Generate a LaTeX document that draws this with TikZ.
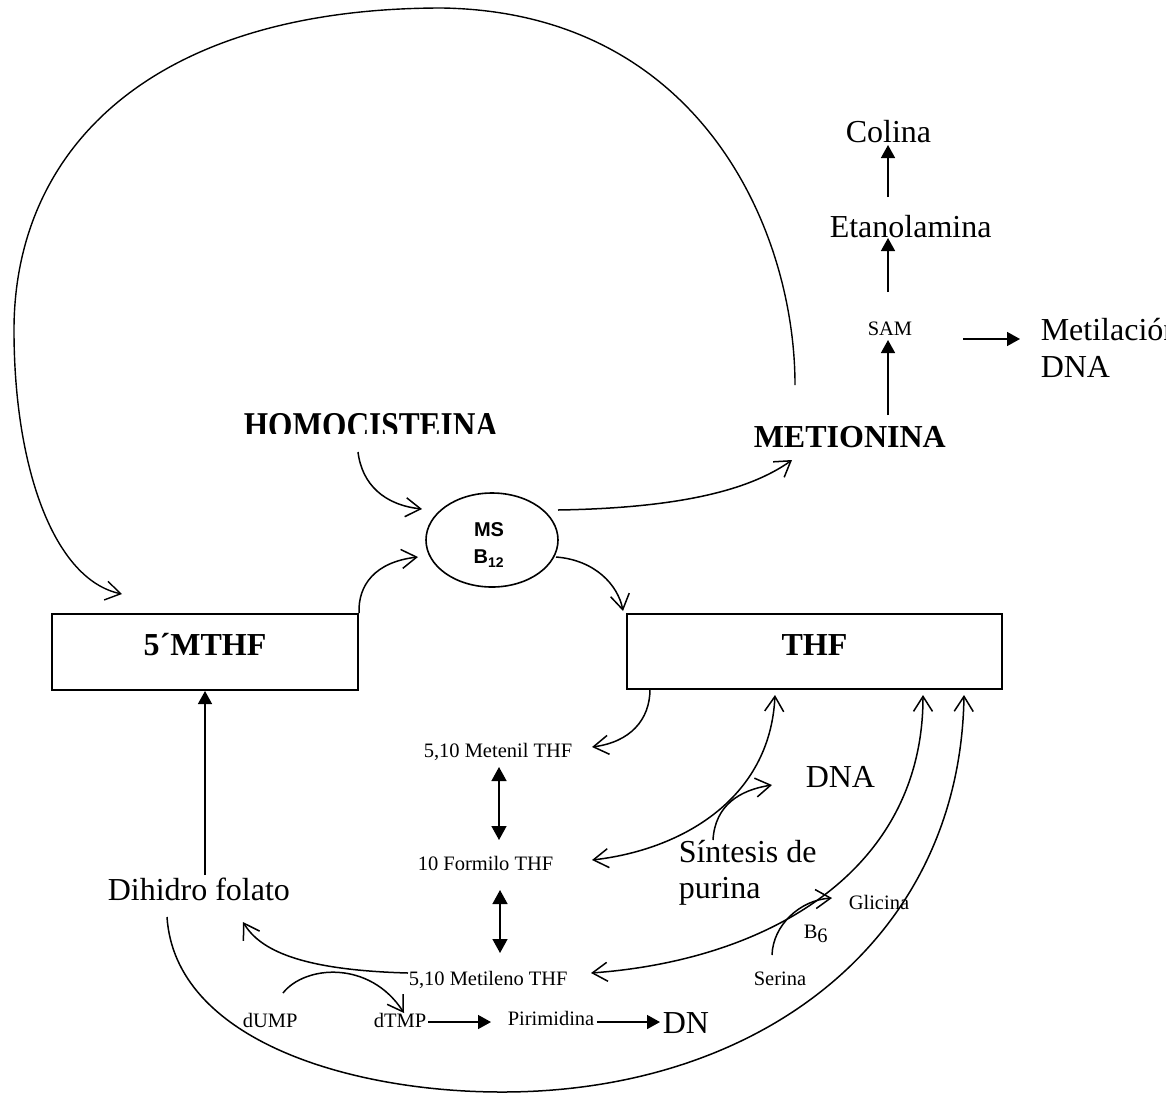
\documentclass[tikz,border=0pt]{standalone}
\usepackage{fontspec}
\usepackage{graphicx}
\setmainfont{Liberation Serif}
\setsansfont{Liberation Sans}
\usetikzlibrary{arrows.meta,shapes.geometric}

\begin{document}
\begin{tikzpicture}[x=1pt,y=-1pt,line width=1.5pt,
  lbl/.style={anchor=base west,inner sep=0pt,font=\fontsize{32}{37}\selectfont},
  slbl/.style={anchor=base west,inner sep=0pt,font=\fontsize{20.5}{24}\selectfont},
  blbl/.style={anchor=base,inner sep=0pt,font=\fontsize{32}{37}\selectfont\bfseries},
  folbox/.style={draw,line width=2pt,inner sep=0pt,minimum height=76pt},
  barb/.style={-{Straight Barb[length=15pt,width=19pt]}},
  dbarb/.style={{Straight Barb[length=15pt,width=19pt]}-{Straight Barb[length=15pt,width=19pt]}},
  tri/.style={-{Triangle[length=13pt,width=14pt]}},
  dtri/.style={{Triangle[length=14pt,width=15pt]}-{Triangle[length=14pt,width=15pt]}},
]
\clip (0,0) rectangle (1166,1093);

% folate boxes and the methionine synthase enzyme
\node[folbox,minimum width=306pt] (mthf) at (205,652) {};
\node[blbl] (mthfl) at (205,655) {5´MTHF};
\node[folbox,minimum width=375pt,minimum height=75pt] (thf) at (814.5,651.5) {};
\node[blbl] (thfl) at (814.5,655) {THF};
\node[draw,ellipse,line width=1.6pt,minimum width=132pt,minimum height=94pt,inner sep=0pt] (ms) at (492,540) {};
\node[align=center,inner sep=0pt,font=\sffamily\bfseries\fontsize{20}{27}\selectfont] (msl) at (489,545)
      {MS\\B\textsubscript{12}};

% amino acids
\begin{scope}
  \clip (230,395) rectangle (520,433);
  \node[anchor=base west,inner sep=0pt,font=\fontsize{33}{37}\selectfont\bfseries] (homo) at (243,437)
    {\scalebox{0.95}[1.1]{HOMOCISTEINA}};
\end{scope}
\node[anchor=base west,inner sep=0pt,font=\fontsize{32}{37}\selectfont\bfseries] (met) at (753,447) {METIONINA};

% methyl donors
\node[lbl] (colina) at (845,142) {Colina};
\node[lbl] (eta) at (829,237) {Etanolamina};
\node[slbl] (sam) at (867,335) {SAM};
\node[lbl,align=left] (metil) at (1040,377) {Metilación\\DNA};

% one-carbon pool
\node[slbl] (metenil) at (423,757) {5,10 Metenil THF};
\node[slbl] (formil) at (417,870) {10 Formilo THF};
\node[slbl] (metilen) at (408,985) {5,10 Metileno THF};
\node[lbl] (dhf) at (107,900) {Dihidro folato};
\node[slbl] (dump) at (242,1027) {dUMP};
\node[slbl] (dtmp) at (373,1027) {dTMP};
\node[slbl] (pirim) at (507,1025) {Pirimidina};
\node[lbl] (dn) at (662,1033) {DN};
\node[lbl] (dna) at (805,787) {DNA};
\node[lbl,align=left,font=\fontsize{32}{36}\selectfont] (sint) at (678,898) {Síntesis de\\purina};
\node[slbl] (glic) at (848,909) {Glicina};
\node[slbl] (b6) at (803,938) {B\raisebox{-4pt}{6}};
\node[slbl] (ser) at (753,985) {Serina};

% connector end points
\coordinate (metTop) at (795,385);
\coordinate (homoEnd) at (358,452);
\coordinate (msIn1) at (422,509);
\coordinate (msIn2) at (418,557);
\coordinate (msOut1) at (558,510);
\coordinate (metIn) at (792,460);
\coordinate (msOut2) at (556,557);
\coordinate (thfIn1) at (623,611);
\coordinate (mthfIn) at (122,594);
\coordinate (dhfTop) at (205,875);
\coordinate (thfOut) at (650,689);
\coordinate (metenilR) at (592,747);
\coordinate (formilR) at (592,860);
\coordinate (thfIn2) at (775,695);
\coordinate (sintTop) at (713,840);
\coordinate (dnaL) at (772,785);
\coordinate (metilenR) at (591,973);
\coordinate (thfIn3) at (923,695);
\coordinate (thfIn4) at (964,695);
\coordinate (dhfBot) at (167,917);
\coordinate (serTop) at (772,955);
\coordinate (glicL) at (832,898);
\coordinate (metilenL) at (408,973);
\coordinate (dhfR) at (243,922);
\coordinate (dumpTop) at (283,993);
\coordinate (dtmpTop) at (404,1013);

% methionine back to 5'MTHF
\draw[barb,line width=1.4pt] (metTop) .. controls (795,230) and (700,12) .. (442,8)
   .. controls (150,8) and (14,150) .. (14,330)
   .. controls (14,470) and (55,580) .. (mthfIn);

% methionine synthase reaction
\draw[barb] (homoEnd) .. controls (362,485) and (385,505) .. (msIn1);
\draw[barb] (mthf.north east) .. controls (358,585) and (375,562) .. (msIn2);
\draw[barb] (msOut1) .. controls (680,508) and (750,490) .. (metIn);
\draw[barb] (msOut2) .. controls (595,560) and (618,585) .. (thfIn1);

% SAM branch
\draw[tri] (888,415) -- (888,340);
\draw[tri] (888,292) -- (888,238);
\draw[tri] (888,197) -- (888,145);
\draw[tri] (963,339) -- (1020,339);

% folate interconversions
\draw[tri] (dhfTop) -- (mthf.south);
\draw[barb] (thfOut) .. controls (650,720) and (630,742) .. (metenilR);
\draw[dtri] (499,767) -- (499,840);
\draw[dtri] (500,890) -- (500,953);
\draw[dbarb] (formilR) .. controls (680,850) and (770,800) .. (thfIn2);
\draw[barb] (sintTop) .. controls (715,805) and (740,790) .. (dnaL);
\draw[dbarb] (metilenR) .. controls (770,960) and (923,870) .. (thfIn3);
\draw[barb] (dhfBot) .. controls (175,1040) and (350,1092) .. (502,1092)
   .. controls (760,1092) and (960,940) .. (thfIn4);
\draw[barb] (serTop) .. controls (773,925) and (800,900) .. (glicL);
\draw[barb] (metilenL) .. controls (300,970) and (260,950) .. (dhfR);
\draw[barb] (dumpTop) .. controls (305,965) and (370,960) .. (dtmpTop);
\draw[tri] (428,1022) -- (491,1022);
\draw[tri] (597,1022) -- (660,1022);
\end{tikzpicture}
\end{document}
